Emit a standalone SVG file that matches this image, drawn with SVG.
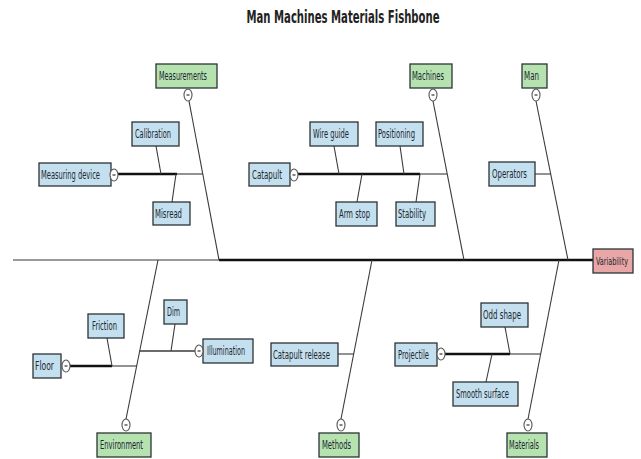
<svg xmlns="http://www.w3.org/2000/svg" width="641" height="459" viewBox="0 0 641 459">
<defs>
<style>
.box{stroke:#2b3438;stroke-width:1.3}
.g{fill:#b6e2b0}
.b{fill:#c4dfee}
.p{fill:#e9a6a6}
.t{font-family:"DejaVu Sans Condensed","Liberation Sans",sans-serif;font-size:12px;fill:#1c2830}
.thin{stroke:#3a3a3a;stroke-width:1.1;fill:none}
.thick{stroke:#111;stroke-width:2.6;fill:none}
.knob{fill:#fff;stroke:#555;stroke-width:1.1}
.minus{stroke:#333;stroke-width:1.2}
</style>
</defs>
<rect width="641" height="459" fill="#fff"/>
<text x="343" y="23" text-anchor="middle" textLength="193" lengthAdjust="spacingAndGlyphs" style="font-family:'DejaVu Sans Condensed','Liberation Sans',sans-serif;font-size:18px;font-weight:bold;fill:#222">Man Machines Materials Fishbone</text>

<g id="connectors">
<line class="thin" x1="13" y1="260" x2="219" y2="260" style="stroke:#777;stroke-width:1.6"/>
<line class="thick" x1="219" y1="260" x2="593" y2="260"/>
<line class="thin" x1="189" y1="101" x2="219" y2="260"/>
<line class="thin" x1="433" y1="101" x2="464" y2="260"/>
<line class="thin" x1="536" y1="101" x2="568" y2="260"/>
<line class="thin" x1="158" y1="260" x2="126" y2="419"/>
<line class="thin" x1="372" y1="260" x2="341" y2="419"/>
<line class="thin" x1="559" y1="260" x2="528" y2="419"/>
<line class="thick" x1="118" y1="174" x2="177" y2="174"/>
<line class="thin" x1="177" y1="174" x2="203" y2="174"/>
<line class="thin" x1="156" y1="146" x2="161" y2="174"/>
<line class="thin" x1="176" y1="174" x2="172" y2="202"/>
<line class="thick" x1="298" y1="174" x2="420" y2="174"/>
<line class="thin" x1="420" y1="174" x2="447" y2="174"/>
<line class="thin" x1="334" y1="146" x2="339" y2="174"/>
<line class="thin" x1="400" y1="146" x2="404" y2="174"/>
<line class="thin" x1="362" y1="174" x2="357" y2="202"/>
<line class="thin" x1="420" y1="174" x2="416" y2="202"/>
<line class="thin" x1="535" y1="174" x2="551" y2="174"/>
<line class="thick" x1="70" y1="366" x2="112" y2="366"/>
<line class="thin" x1="112" y1="366" x2="137" y2="366"/>
<line class="thin" x1="107" y1="338" x2="112" y2="366"/>
<line class="thin" x1="140" y1="351" x2="195" y2="351" style="stroke-width:1.4"/>
<line class="thin" x1="175" y1="324" x2="171" y2="351"/>
<line class="thin" x1="338" y1="354" x2="354" y2="354"/>
<line class="thick" x1="445" y1="354" x2="510" y2="354"/>
<line class="thin" x1="510" y1="354" x2="541" y2="354"/>
<line class="thin" x1="505" y1="327" x2="510" y2="354"/>
<line class="thin" x1="492" y1="354" x2="486" y2="382"/>
</g>

<g id="n-measurements"><rect class="box g" x="156" y="64" width="61" height="24"/><text class="t" x="159" y="80" textLength="48" lengthAdjust="spacingAndGlyphs">Measurements</text><ellipse class="knob" cx="188" cy="95" rx="4" ry="6"/><line class="minus" x1="186.5" y1="95" x2="189.5" y2="95"/></g>
<g id="n-machines"><rect class="box g" x="410" y="64" width="42" height="24"/><text class="t" x="412" y="80" textLength="32" lengthAdjust="spacingAndGlyphs">Machines</text><ellipse class="knob" cx="433" cy="95" rx="4" ry="6"/><line class="minus" x1="431.5" y1="95" x2="434.5" y2="95"/></g>
<g id="n-man"><rect class="box g" x="522" y="64" width="25" height="24"/><text class="t" x="524" y="80" textLength="15" lengthAdjust="spacingAndGlyphs">Man</text><ellipse class="knob" cx="536" cy="95" rx="4" ry="6"/><line class="minus" x1="534.5" y1="95" x2="537.5" y2="95"/></g>
<g id="n-calibration"><rect class="box b" x="132" y="122" width="47" height="24"/><text class="t" x="135" y="138" textLength="36" lengthAdjust="spacingAndGlyphs">Calibration</text></g>
<g id="n-wireguide"><rect class="box b" x="310" y="122" width="48" height="24"/><text class="t" x="313" y="138" textLength="36" lengthAdjust="spacingAndGlyphs">Wire guide</text></g>
<g id="n-positioning"><rect class="box b" x="376" y="122" width="47" height="24"/><text class="t" x="378" y="138" textLength="37" lengthAdjust="spacingAndGlyphs">Positioning</text></g>
<g id="n-measuringdevice"><rect class="box b" x="39" y="163" width="72" height="23"/><text class="t" x="41" y="179" textLength="59" lengthAdjust="spacingAndGlyphs">Measuring device</text><ellipse class="knob" cx="114" cy="175" rx="4" ry="6"/><line class="minus" x1="112.5" y1="175" x2="115.5" y2="175"/></g>
<g id="n-catapult"><rect class="box b" x="249" y="163" width="41" height="23"/><text class="t" x="252" y="179" textLength="30" lengthAdjust="spacingAndGlyphs">Catapult</text><ellipse class="knob" cx="294" cy="175" rx="4" ry="6"/><line class="minus" x1="292.5" y1="175" x2="295.5" y2="175"/></g>
<g id="n-operators"><rect class="box b" x="489" y="162" width="46" height="24"/><text class="t" x="492" y="178" textLength="35" lengthAdjust="spacingAndGlyphs">Operators</text></g>
<g id="n-misread"><rect class="box b" x="153" y="202" width="37" height="23"/><text class="t" x="155" y="218" textLength="27" lengthAdjust="spacingAndGlyphs">Misread</text></g>
<g id="n-armstop"><rect class="box b" x="336" y="202" width="41" height="24"/><text class="t" x="339" y="218" textLength="31" lengthAdjust="spacingAndGlyphs">Arm stop</text></g>
<g id="n-stability"><rect class="box b" x="396" y="202" width="39" height="24"/><text class="t" x="398" y="218" textLength="28" lengthAdjust="spacingAndGlyphs">Stability</text></g>
<g id="n-variability"><rect class="box p" x="593" y="249" width="40" height="24"/><text class="t" x="596" y="265" textLength="32" lengthAdjust="spacingAndGlyphs" style="font-size:10.5px">Variability</text></g>
<g id="n-dim"><rect class="box b" x="164" y="300" width="23" height="24"/><text class="t" x="167" y="316" textLength="13" lengthAdjust="spacingAndGlyphs">Dim</text></g>
<g id="n-oddshape"><rect class="box b" x="481" y="303" width="47" height="24"/><text class="t" x="483" y="319" textLength="38" lengthAdjust="spacingAndGlyphs">Odd shape</text></g>
<g id="n-friction"><rect class="box b" x="88" y="314" width="36" height="24"/><text class="t" x="92" y="330" textLength="25" lengthAdjust="spacingAndGlyphs">Friction</text></g>
<g id="n-illumination"><rect class="box b" x="203" y="339" width="50" height="24"/><text class="t" x="207" y="355" textLength="38" lengthAdjust="spacingAndGlyphs">Illumination</text><ellipse class="knob" cx="199" cy="351" rx="4" ry="6"/><line class="minus" x1="197.5" y1="351" x2="200.5" y2="351"/></g>
<g id="n-catapultrelease"><rect class="box b" x="271" y="343" width="67" height="23"/><text class="t" x="273" y="359" textLength="57" lengthAdjust="spacingAndGlyphs">Catapult release</text></g>
<g id="n-projectile"><rect class="box b" x="395" y="343" width="42" height="23"/><text class="t" x="398" y="359" textLength="31" lengthAdjust="spacingAndGlyphs">Projectile</text><ellipse class="knob" cx="441" cy="354" rx="4" ry="6"/><line class="minus" x1="439.5" y1="354" x2="442.5" y2="354"/></g>
<g id="n-floor"><rect class="box b" x="33" y="354" width="28" height="24"/><text class="t" x="35" y="370" textLength="19" lengthAdjust="spacingAndGlyphs">Floor</text><ellipse class="knob" cx="66" cy="366" rx="4" ry="6"/><line class="minus" x1="64.5" y1="366" x2="67.5" y2="366"/></g>
<g id="n-smoothsurface"><rect class="box b" x="453" y="382" width="65" height="24"/><text class="t" x="456" y="398" textLength="53" lengthAdjust="spacingAndGlyphs">Smooth surface</text></g>
<g id="n-environment"><rect class="box g" x="97" y="433" width="54" height="24"/><text class="t" x="100" y="449" textLength="43" lengthAdjust="spacingAndGlyphs">Environment</text><ellipse class="knob" cx="126" cy="425" rx="4" ry="6"/><line class="minus" x1="124.5" y1="425" x2="127.5" y2="425"/></g>
<g id="n-methods"><rect class="box g" x="319" y="433" width="40" height="24"/><text class="t" x="322" y="449" textLength="29" lengthAdjust="spacingAndGlyphs">Methods</text><ellipse class="knob" cx="341" cy="425" rx="4" ry="6"/><line class="minus" x1="339.5" y1="425" x2="342.5" y2="425"/></g>
<g id="n-materials"><rect class="box g" x="507" y="433" width="40" height="24"/><text class="t" x="509" y="449" textLength="30" lengthAdjust="spacingAndGlyphs">Materials</text><ellipse class="knob" cx="528" cy="425" rx="4" ry="6"/><line class="minus" x1="526.5" y1="425" x2="529.5" y2="425"/></g>
</svg>
